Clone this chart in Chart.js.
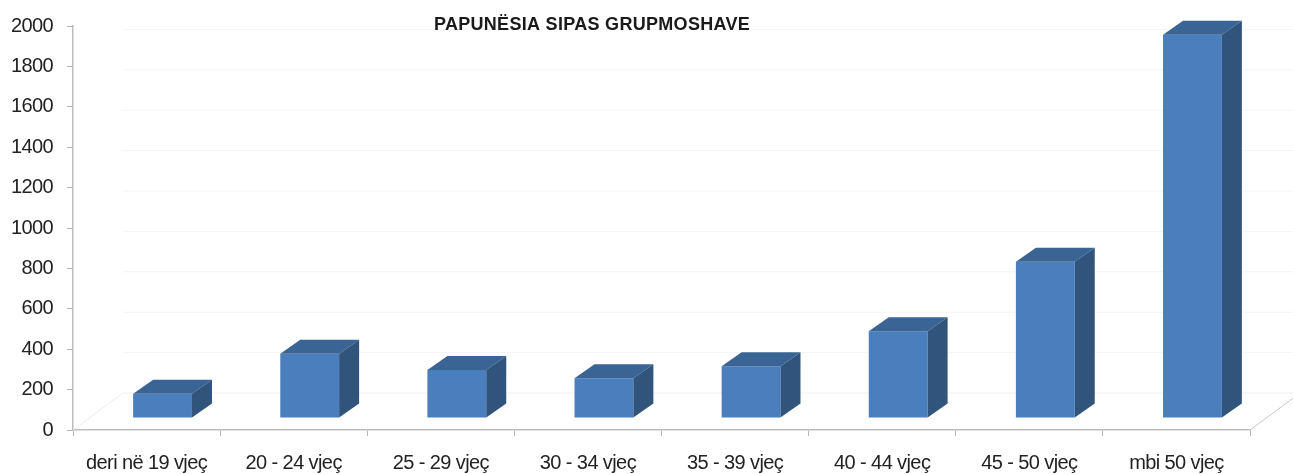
<!DOCTYPE html>
<html>
<head>
<meta charset="utf-8">
<script src="https://cdn.jsdelivr.net/npm/chart.js@4"></script>
<style>
  html, body { margin: 0; padding: 0; background: #fff; }
  #wrap { width: 1293px; height: 474px; }
</style>
</head>
<body>
<div id="wrap"><canvas id="myChart"></canvas></div>
<script>
const categories = ['deri në 19 vjeç', '20 - 24 vjeç', '25 - 29 vjeç', '30 - 34 vjeç',
                    '35 - 39 vjeç', '40 - 44 vjeç', '45 - 50 vjeç', 'mbi 50 vjeç']
const values = [120, 318, 238, 197, 256, 430, 773, 1897]
const yTicks = [0, 200, 400, 600, 800, 1000, 1200, 1400, 1600, 1800, 2000]
const title = 'PAPUNËSIA SIPAS GRUPMOSHAVE'

// 3d look: front faces are shifted, depth goes up-right
const shiftX = 16, shiftY = -12
const depthX = 20, depthY = -14
const wallX = 50, wallY = -37

const threeD = {
    id: 'threeD',
    beforeDraw(chart) {
        chart.ctx.letterSpacing = '-0.6px'
    },
    beforeDatasetsDraw(chart) {
        const ctx = chart.ctx
        const y = chart.scales.y
        const area = chart.chartArea
        const y0 = y.getPixelForValue(0)
        ctx.save()
        ctx.lineWidth = 1
        // back wall grid, very faint
        ctx.strokeStyle = '#f4f4f4'
        yTicks.forEach(v => {
            if (v === 0) return
            const py = y.getPixelForValue(v)
            ctx.beginPath()
            ctx.moveTo(area.left + wallX, py + wallY)
            ctx.lineTo(chart.width + 20, py + wallY)
            ctx.stroke()
        })
        // floor
        ctx.strokeStyle = '#eeeeee'
        ctx.beginPath()
        ctx.moveTo(area.left, y0)
        ctx.lineTo(area.left + wallX, y0 + wallY)
        ctx.lineTo(chart.width + 20, y0 + wallY)
        ctx.stroke()
        ctx.strokeStyle = '#c8c8c8'
        ctx.beginPath()
        ctx.moveTo(area.right, y0)
        ctx.lineTo(area.right + wallX, y0 + wallY)
        ctx.stroke()
        ctx.restore()

        ctx.save()
        ctx.translate(shiftX, shiftY)
    },
    afterDatasetsDraw(chart) {
        const ctx = chart.ctx
        ctx.restore()
        const meta = chart.getDatasetMeta(0)
        ctx.save()
        meta.data.forEach(bar => {
            const p = bar.getProps(['x', 'y', 'base', 'width'], true)
            const l = p.x - p.width / 2 + shiftX
            const r = p.x + p.width / 2 + shiftX
            const t = p.y + shiftY
            const b = p.base + shiftY
            ctx.fillStyle = '#3a6494'
            ctx.beginPath()
            ctx.moveTo(l, t)
            ctx.lineTo(l + depthX, t + depthY)
            ctx.lineTo(r + depthX, t + depthY)
            ctx.lineTo(r, t)
            ctx.closePath()
            ctx.fill()
            ctx.fillStyle = '#30547c'
            ctx.beginPath()
            ctx.moveTo(r, t)
            ctx.lineTo(r + depthX, t + depthY)
            ctx.lineTo(r + depthX, b + depthY)
            ctx.lineTo(r, b)
            ctx.closePath()
            ctx.fill()
        })
        ctx.restore()
    },
    afterDraw(chart) {
        const ctx = chart.ctx
        ctx.save()
        ctx.letterSpacing = '0.3px'
        ctx.font = 'bold 18px "Liberation Sans", Arial, sans-serif'
        ctx.fillStyle = '#1a1a1a'
        ctx.textAlign = 'center'
        ctx.textBaseline = 'alphabetic'
        ctx.fillText(title, 592, 30)
        ctx.restore()
    }
}

const ctx = document.getElementById('myChart').getContext('2d')
const myChart = new Chart(ctx, {
    type: 'bar',
    data: {
        labels: categories,
        datasets: [{
            label: 'Papunësia',
            data: values,
            backgroundColor: '#4a7ebd',
            borderWidth: 0,
            barPercentage: 1,
            categoryPercentage: 0.4
        }]
    },
    options: {
        responsive: true,
        maintainAspectRatio: false,
        animation: false,
        layout: { padding: { left: 0, right: 43, top: 21, bottom: 0 } },
        plugins: {
            legend: { display: false },
            tooltip: { enabled: false }
        },
        scales: {
            x: {
                grid: {
                    drawOnChartArea: false,
                    tickLength: 6,
                    color: '#b5b5b5'
                },
                border: { color: '#bdbdbd', width: 1.5 },
                ticks: {
                    color: '#222',
                    padding: 15,
                    maxRotation: 0,
                    font: { family: '"Liberation Sans", Arial, sans-serif', size: 20 }
                },
                afterFit(scale) { scale.height = 44 }
            },
            y: {
                min: 0,
                max: 2000,
                grid: {
                    drawOnChartArea: false,
                    tickLength: 6,
                    color: '#b5b5b5'
                },
                border: { color: '#bdbdbd', width: 1.5 },
                ticks: {
                    stepSize: 200,
                    color: '#222',
                    padding: 14,
                    font: { family: '"Liberation Sans", Arial, sans-serif', size: 20 },
                    callback: function(value) {
                        return String(value)
                    }
                },
                afterFit(scale) { scale.width = 73 }
            }
        }
    },
    plugins: [threeD]
})
</script>
</body>
</html>
